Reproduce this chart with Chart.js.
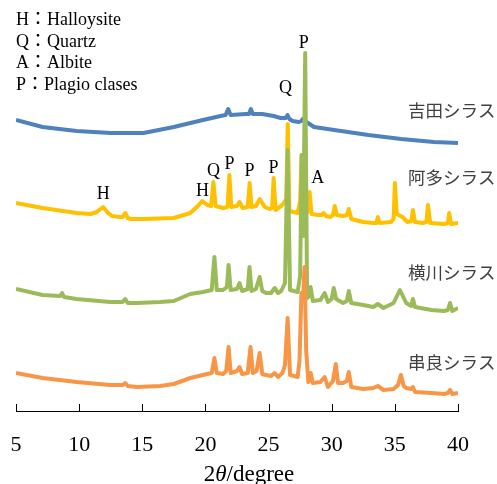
<!DOCTYPE html>
<html><head><meta charset="utf-8">
<script src="https://cdn.jsdelivr.net/npm/chart.js@4.4.1/dist/chart.umd.min.js"></script>
<style>html,body{margin:0;padding:0;background:#fff;overflow:hidden}#wrap{width:497px;height:484px;position:relative}</style>
</head><body><div id="wrap"><canvas id="c" width="497" height="484"></canvas></div>
<script>
// ---- data (2θ in degree, intensity in arbitrary offset units) ----
const seriesNames = ['吉田シラス', '阿多シラス', '横川シラス', '串良シラス'];

const yoshida = [[5.0,291],[7.1,284],[9.8,280],[12.5,278],[15.1,278],[17.5,284],[19.8,291],[21.2,295],[21.6,296],[21.8,302],[22.0,296],[23.2,297],[23.45,297],[23.6,302],[23.75,297],[24.5,297],[25.4,295],[25.95,293],[26.35,293],[26.5,296],[26.65,292],[26.9,290],[27.4,289],[27.6,290],[27.7,292],[27.85,290],[28.0,289],[28.6,284],[30.2,281],[32.9,276],[35.5,272],[38.1,269],[40.0,268]];

const ata = [[5.0,208],[7.1,203],[9.8,198],[10.9,197],[11.4,199],[11.9,204],[12.3,198],[12.6,195],[13.25,194],[13.45,194],[13.65,198],[13.85,193],[14.1,192],[15.1,192],[17.5,193],[18.8,198],[19.4,205],[19.75,210],[20.15,206],[20.45,205],[20.63,229],[20.8,205],[21.4,203],[21.75,204],[21.9,236],[22.05,204],[22.5,205],[22.7,209],[22.95,203],[23.35,204],[23.5,228],[23.65,204],[24.0,205],[24.3,212],[24.7,204],[25.1,202],[25.28,203],[25.4,233],[25.55,201],[26.0,205],[26.2,208],[26.4,212],[26.52,287],[26.65,200],[27.3,198],[27.5,210],[27.62,256],[27.75,205],[28.1,199],[28.25,219],[28.4,197],[28.9,196],[29.2,196],[29.37,198],[29.55,195],[29.9,194],[30.1,196],[30.24,205],[30.4,196],[30.9,195],[31.2,196],[31.35,202],[31.55,192],[32.5,189],[33.3,188],[33.55,188],[33.65,194],[33.8,188],[34.7,189],[34.9,192],[35.0,228],[35.15,197],[35.6,194],[36.0,189],[36.3,190],[36.43,201],[36.6,189],[37.2,188],[37.5,189],[37.62,206],[37.8,188],[38.9,187],[39.2,188],[39.3,198],[39.45,187],[40.0,188]];

const yokogawa = [[5.0,122],[7.1,116],[8.5,115],[8.65,118],[8.8,114],[9.8,112],[12.46,109],[13.45,109],[13.65,112],[13.85,108],[14.6,108],[16.4,109],[17.5,110],[18.8,117],[19.8,119],[20.5,121],[20.71,154],[20.9,121],[21.4,121],[21.7,124],[21.83,146],[22.0,121],[22.5,122],[22.7,128],[22.9,120],[23.35,122],[23.49,144],[23.65,120],[24.0,122],[24.29,134],[24.5,120],[24.8,118],[25.2,118],[25.48,123],[25.75,118],[26.0,120],[26.3,128],[26.51,261],[26.7,121],[27.3,119],[27.5,135],[27.62,256],[27.74,175],[27.9,358],[28.05,113],[28.2,115],[28.33,124],[28.5,110],[29.1,111],[29.44,118],[29.7,109],[30.0,112],[30.16,123],[30.35,112],[30.9,108],[31.2,110],[31.35,120],[31.55,108],[32.5,106],[33.3,104],[33.65,107],[34.1,103],[34.9,108],[35.4,121],[35.9,108],[36.3,105],[36.43,112],[36.6,104],[37.9,101],[38.9,100],[39.2,101],[39.37,108],[39.55,100],[40.0,103]];

const kushira = [[5.0,38],[7.1,33],[9.8,29],[12.46,26],[13.45,26],[13.65,28],[13.85,25],[14.6,24],[16.4,25],[17.5,27],[18.8,33],[19.8,36],[20.5,38],[20.71,53],[20.9,38],[21.4,37],[21.65,40],[21.83,64],[22.0,38],[22.5,40],[22.7,44],[22.9,37],[23.35,38],[23.57,64],[23.75,38],[24.05,40],[24.29,58],[24.5,37],[24.8,36],[25.2,35],[25.48,38],[25.75,34],[26.1,38],[26.3,46],[26.51,93],[26.7,36],[27.3,34],[27.45,50],[27.6,118],[27.72,110],[27.85,144],[27.98,60],[28.15,29],[28.33,38],[28.5,28],[29.1,29],[29.44,34],[29.7,24],[30.1,30],[30.32,47],[30.5,28],[30.9,28],[31.2,30],[31.35,39],[31.55,24],[32.5,22],[33.3,23],[33.65,25],[34.1,21],[34.9,22],[35.25,26],[35.48,36],[35.7,25],[35.9,23],[36.3,22],[36.43,24],[36.6,19],[37.9,18],[38.9,17],[39.2,18],[39.37,21],[39.55,17],[40.0,18]];

const xTicks = [5, 10, 15, 20, 25, 30, 35, 40];
const legendLines = ['H：Halloysite', 'Q：Quartz', 'A：Albite', 'P：Plagio clases'];
// peak labels: [text, 2θ, intensity]
const peakLabels = [['P',27.78,368],['Q',26.35,323],['H',11.9,217],['H',19.76,220],['Q',20.63,240],['P',21.9,247],['P',23.49,240],['P',25.4,243],['A',28.89,233]];
// series-name anchors: [2θ, intensity]
const nameAnchors = [[36.05,301],[36.05,234],[36.05,139],[36.05,49]];

const colors = ['#4F81BD', '#FFC000', '#9BBB59', '#F79646'];
const allSeries = [yoshida, ata, yokogawa, kushira];
const drawOrder = [3, 2, 1, 0]; // lower = on top

const SERIF = '"Liberation Serif", "Times New Roman", serif';

const annot = {
  id: 'annot',
  afterDraw(chart) {
    const ctx = chart.ctx, xs = chart.scales.x, ys = chart.scales.y, ca = chart.chartArea;
    ctx.save();
    // inward tick marks
    ctx.strokeStyle = '#000'; ctx.lineWidth = 1;
    xs.ticks.forEach(t => {
      const px = Math.round(xs.getPixelForValue(t.value)) + 0.5;
      ctx.beginPath(); ctx.moveTo(px, ca.bottom - 7); ctx.lineTo(px, ca.bottom); ctx.stroke();
    });
    // peak labels
    ctx.fillStyle = '#000';
    ctx.font = '18px ' + SERIF;
    ctx.textAlign = 'center'; ctx.textBaseline = 'middle';
    peakLabels.forEach(([t, x, y]) => ctx.fillText(t, xs.getPixelForValue(x), ys.getPixelForValue(y)));
    // legend text
    ctx.textAlign = 'left';
    ctx.font = '18px ' + SERIF + ', "Noto Sans CJK JP"';
    legendLines.forEach((s, i) => ctx.fillText(s, ca.left, 20 + i * 21.8));
    // series names
    ctx.fillStyle = '#404040';
    ctx.font = '17.5px "Noto Sans CJK JP"';
    nameAnchors.forEach(([x, y], i) => ctx.fillText(seriesNames[i], xs.getPixelForValue(x), ys.getPixelForValue(y)));
    // axis title 2θ/degree
    ctx.fillStyle = '#000';
    ctx.textBaseline = 'alphabetic';
    const parts = [['2', '23px ' + SERIF], ['θ', 'italic 23px ' + SERIF], ['/degree', '23px ' + SERIF]];
    let w = 0;
    parts.forEach(([s, f]) => { ctx.font = f; w += ctx.measureText(s).width; });
    let x0 = (ca.left + ca.right) / 2 + 12 - w / 2;
    parts.forEach(([s, f]) => { ctx.font = f; ctx.fillText(s, x0, 481); x0 += ctx.measureText(s).width; });
    ctx.restore();
  }
};

new Chart(document.getElementById('c'), {
  type: 'line',
  data: {
    datasets: allSeries.map((s, i) => ({
      label: seriesNames[i],
      data: s.map(([x, y]) => ({ x, y })),
      borderColor: colors[i],
      backgroundColor: colors[i],
      borderWidth: 4,
      pointRadius: 0,
      tension: 0,
      borderJoinStyle: 'round',
      order: drawOrder[i]
    }))
  },
  options: {
    responsive: false,
    animation: false,
    devicePixelRatio: 1,
    layout: { padding: { left: 16, right: 39, top: 11, bottom: 0 } },
    plugins: { legend: { display: false }, tooltip: { enabled: false } },
    scales: {
      x: {
        type: 'linear', min: 5, max: 40,
        afterBuildTicks: (scale) => { scale.ticks = xTicks.map(v => ({ value: v })); },
        afterFit: (scale) => { scale.height = 73; },
        ticks: { font: { family: SERIF, size: 22 }, color: '#000', padding: 0, maxRotation: 0 },
        grid: { display: true, drawOnChartArea: false, drawTicks: true, tickLength: 21, tickColor: 'rgba(0,0,0,0)' },
        border: { display: true, color: '#000', width: 1 }
      },
      y: { display: false, min: 0, max: 400 }
    }
  },
  plugins: [annot]
});
</script></body></html>
